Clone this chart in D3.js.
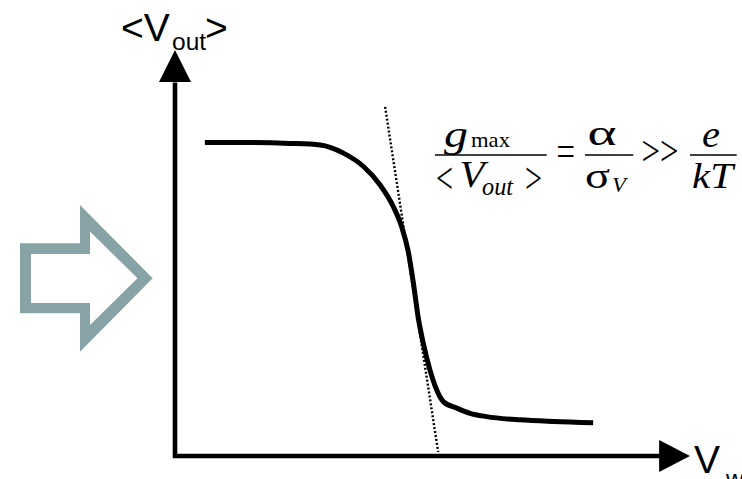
<!DOCTYPE html>
<html>
<head>
<meta charset="utf-8">
<script src="https://cdn.jsdelivr.net/npm/d3@7"></script>
<style>
  html, body { margin: 0; padding: 0; background: #fff; overflow: hidden; }
  svg { display: block; }
</style>
</head>
<body>
<svg id="chart" width="742" height="479"></svg>
<script>
// Transfer curve: mean output voltage vs. input voltage (arbitrary units)
const vIn  = [0.58, 1.46, 2.23, 2.82, 3.27, 3.66, 3.98, 4.24, 4.40, 4.53, 4.63,
              4.72, 4.82, 4.95, 5.08, 5.21, 5.47, 5.73, 6.05, 6.70, 7.35, 8.12];
const vOut = [0.772, 0.772, 0.770, 0.766, 0.746, 0.713, 0.668, 0.614, 0.565, 0.503, 0.425,
              0.343, 0.278, 0.212, 0.163, 0.134, 0.118, 0.105, 0.097, 0.089, 0.085, 0.082];

// Tangent at the steepest point (gives g_max)
const tangentX = [4.08, 5.11];
const tangentY = [0.86, 0.01];

const svg = d3.select("#chart");

const x = d3.scaleLinear().domain([0, 10]).range([175, 690]);
const y = d3.scaleLinear().domain([0, 1]).range([456, 50]);

// Hollow block arrow pointing at the plot
const outer = [[20,243.3],[80,243.3],[80,205],[152.7,278.3],[80,351.7],[80,313.3],[20,313.3]];
const inner = [[31,254],[90,254],[90,231.5],[137.5,278.3],[90,325],[90,303],[31,303]];
const ring = d3.line();
svg.append("path")
  .attr("d", ring(outer) + "Z" + ring(inner) + "Z")
  .attr("fill", "#87a3a6")
  .attr("fill-rule", "evenodd");

// Axes with arrow heads
const axisG = svg.append("g");
axisG.append("path")
  .attr("d", d3.line()([[x(0), y(0.92)], [x(0), y(0)], [x(9.45), y(0)]]))
  .attr("fill", "none")
  .attr("stroke", "#000")
  .attr("stroke-width", 4.6)
  .attr("stroke-linejoin", "miter")
  .attr("stroke-linecap", "butt");
axisG.append("path")
  .attr("d", d3.line()([[x(0), y(1)], [x(0) - 16, y(0.921)], [x(0) + 16, y(0.921)]]) + "Z")
  .attr("fill", "#000");
axisG.append("path")
  .attr("d", d3.line()([[x(10), y(0)], [x(9.4), y(0) - 16], [x(9.4), y(0) + 16]]) + "Z")
  .attr("fill", "#000");

// Axis labels
const sans = "'Liberation Sans', Arial, Helvetica, sans-serif";
const yl = svg.append("text").attr("font-family", sans).attr("fill", "#000");
yl.append("tspan").attr("x", 121).attr("y", 40.7).attr("font-size", 39).text("<V");
yl.append("tspan").attr("x", 172).attr("y", 50).attr("font-size", 24.5).text("out");
yl.append("tspan").attr("x", 205).attr("y", 40.7).attr("font-size", 39).text(">");

const xl = svg.append("text").attr("font-family", sans).attr("fill", "#000");
xl.append("tspan").attr("x", 694).attr("y", 472.7).attr("font-size", 39).text("V");
xl.append("tspan").attr("x", 726).attr("y", 487).attr("font-size", 24.5).text("w");

// Dotted tangent
svg.append("path")
  .attr("d", d3.line().x(d => x(d[0])).y(d => y(d[1]))(d3.zip(tangentX, tangentY)))
  .attr("fill", "none")
  .attr("stroke", "#000")
  .attr("stroke-width", 2.4)
  .attr("stroke-dasharray", "2,2");

// Curve
svg.append("path")
  .datum(d3.zip(vIn, vOut))
  .attr("d", d3.line().x(d => x(d[0])).y(d => y(d[1])).curve(d3.curveMonotoneX))
  .attr("fill", "none")
  .attr("stroke", "#000")
  .attr("stroke-width", 5)
  .attr("stroke-linecap", "butt");

// Formula: g_max / <V_out> = α / σ_V >> e / kT
const serif = "'Liberation Serif', 'Times New Roman', Times, serif";
const f = svg.append("g").attr("font-family", serif).attr("fill", "#000");
function txt(xp, yp, s, size, italic, width) {
  const t = f.append("text").attr("x", xp).attr("y", yp).attr("font-size", size)
    .attr("font-style", italic ? "italic" : "normal").text(s);
  if (width) t.attr("textLength", width).attr("lengthAdjust", "spacingAndGlyphs");
}
function bar(x1, x2) {
  f.append("line").attr("x1", x1).attr("x2", x2).attr("y1", 155).attr("y2", 155)
    .attr("stroke", "#000").attr("stroke-width", 1.6);
}
txt(444, 146.7, "g", 37, true, 24);
txt(471, 146.7, "max", 22, false, 39);
bar(435, 546.7);
txt(436, 193, "<", 44, false, 17);
txt(459.5, 187.3, "V", 37, true, 25);
txt(482, 195, "out", 25, true, 31);
txt(525, 193, ">", 44, false, 17);
txt(556.5, 165, "=", 42, false, 18.5);
txt(587.5, 145, "α", 36, false, 29);
bar(585, 633.3);
txt(585, 188.3, "σ", 36, false, 25);
txt(612, 192, "V", 22, true, 14);
txt(641.5, 164.5, ">>", 42, false, 37);
txt(702, 146.7, "e", 37, true, 18);
bar(690, 736.7);
txt(692, 188.3, "kT", 36, true, 41);
</script>
</body>
</html>
